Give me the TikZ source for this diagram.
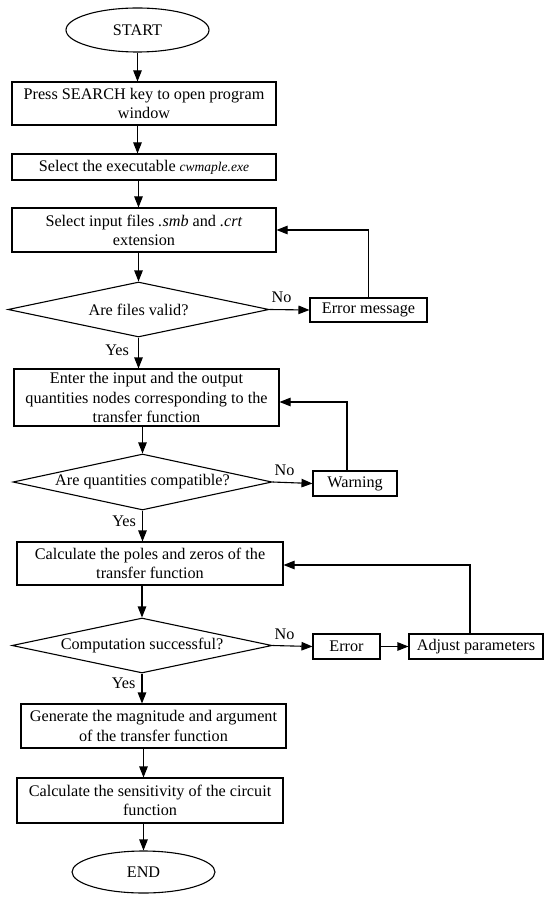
\documentclass[tikz,border=0pt]{standalone}
\usepackage{fontspec}
\setmainfont{Liberation Serif}
\usetikzlibrary{shapes.geometric,arrows.meta}
\begin{document}
\begin{tikzpicture}[x=1pt,y=-1pt,
  every node/.style={font=\fontsize{16.2}{19.2}\selectfont},
  box/.style={draw, rectangle, line width=1.1pt, align=center, inner sep=0pt},
  dec/.style={draw, diamond, aspect=4.7, inner sep=0pt, line width=1.1pt},
  term/.style={draw, ellipse, inner sep=0pt, line width=1.1pt},
  arr/.style={line width=1.1pt, -{Triangle[length=11pt,width=8.5pt]}},
  lbl/.style={inner sep=1pt}]
\useasboundingbox (0,0) rectangle (550,901);

\node[term, minimum width=143pt, minimum height=44pt] (start) at (137.5,30) {START};
\node[box, minimum width=264pt, minimum height=43pt] (b1) at (144,103.5) {Press SEARCH key to open program\\window};
\node[box, minimum width=264pt, minimum height=26pt] (b2) at (144,167) {Select the executable {\fontsize{13.5}{16}\selectfont\itshape cwmaple.exe}};
\node[box, minimum width=264pt, minimum height=44pt] (b3) at (144,230) {Select input files \textit{.smb} and \textit{.crt}\\extension};
\node[dec, minimum width=261pt, minimum height=55pt] (d1) at (138.5,309.5) {Are files valid?};
\node[box, minimum width=117pt, minimum height=24pt] (err1) at (368.5,310) {Error message};
\node[box, minimum width=265pt, minimum height=57pt] (b4) at (146.5,397.5) {Enter the input and the output\\quantities nodes corresponding to the\\transfer function};
\node[dec, minimum width=259pt, minimum height=56pt] (d2) at (142.5,482) {Are quantities compatible?};
\node[box, minimum width=84pt, minimum height=25pt] (warn) at (355,483.5) {Warning};
\node[box, minimum width=266pt, minimum height=43pt] (b5) at (150,563.5) {Calculate the poles and zeros of the\\transfer function};
\node[dec, minimum width=260pt, minimum height=55pt] (d3) at (142,645.5) {Computation successful?};
\node[box, minimum width=67pt, minimum height=25pt] (err3) at (346.5,646.5) {Error};
\node[box, minimum width=134pt, minimum height=25pt] (adj) at (476,646.5) {Adjust parameters};
\node[box, minimum width=265pt, minimum height=44pt] (b6) at (153.5,726) {Generate the magnitude and argument\\of the transfer function};
\node[box, minimum width=266pt, minimum height=45pt] (b7) at (150,800.5) {Calculate the sensitivity of the circuit\\function};
\node[term, minimum width=143pt, minimum height=42pt] (end) at (143.5,872) {END};

\draw[arr] (start.south) -- (start.south |- b1.north);
\draw[arr] (b1.south -| start) -- (b2.north -| start);
\draw[arr] (b2.south -| d1) -- (b3.north -| d1);
\draw[arr] (b3.south -| d1) -- (d1.north);
\draw[arr] (d1.east) -- node[lbl, above=5pt, pos=0.3] {No} (err1.west);
\draw[arr] (err1.north) |- (b3.east);
\draw[arr] (d1.south) -- node[lbl, left=8pt, pos=0.4] {Yes} (d1.south |- b4.north);
\draw[arr] (b4.south -| d2) -- (d2.north);
\draw[arr] (d2.east) -- node[lbl, above=5pt, pos=0.3] {No} (warn.west);
\draw[arr] ([xshift=-8pt]warn.north) |- ([yshift=-4.5pt]b4.east);
\draw[arr] (d2.south) -- node[lbl, left=5pt, pos=0.35] {Yes} (d2.south |- b5.north);
\draw[arr] (b5.south -| d3) -- (d3.north);
\draw[arr] (d3.east) -- node[lbl, above=5pt, pos=0.3] {No} (err3.west);
\draw[arr] (err3.east) -- (adj.west);
\draw[arr] ([xshift=-6pt]adj.north) |- ([yshift=-1.5pt]b5.east);
\draw[arr] (d3.south) -- node[lbl, left=5pt, pos=0.33] {Yes} (d3.south |- b6.north);
\draw[arr] (b6.south -| end) -- (b7.north -| end);
\draw[arr] (b7.south -| end) -- (end.north);
\end{tikzpicture}
\end{document}
